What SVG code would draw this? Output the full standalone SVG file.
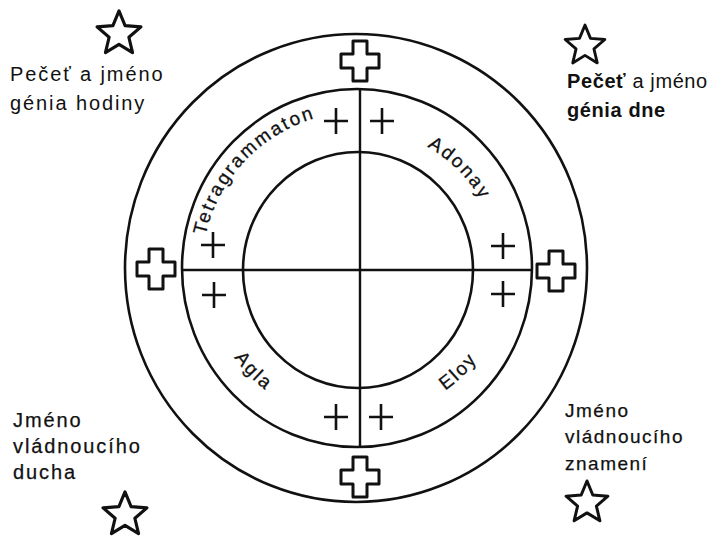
<svg xmlns="http://www.w3.org/2000/svg" xmlns:xlink="http://www.w3.org/1999/xlink" width="714" height="538" viewBox="0 0 714 538">
<style>
  .ring { fill: none; stroke: #111; stroke-width: 2.6; }
  .line { stroke: #111; stroke-width: 2.4; fill: none; }
  .cross { fill: #fff; stroke: #111; stroke-width: 3; stroke-linejoin: round; }
  .plus { stroke: #111; stroke-width: 2.6; fill: none; }
  .star { fill: #fff; stroke: #111; stroke-width: 3; stroke-linejoin: round; }
  .lbl { font-family: "Liberation Sans", Arial, sans-serif; font-size: 20px; fill: #111; letter-spacing: 1.9px; }
  .arc { font-family: "Liberation Sans", Arial, sans-serif; font-size: 19px; fill: #111; letter-spacing: 2.2px; stroke: #111; stroke-width: 0.3; }
  .b { font-weight: bold; }
  .semi { stroke: #111; stroke-width: 0.25; }
</style>
<defs>
  <path id="crossShape" d="M-7,-20 H7 V-7 H19 V7 H7 V20 H-7 V7 H-19 V-7 H-7 Z"/>
  <path id="plusShape" d="M-12,0 H12 M0,-13 V13"/>
  <path id="starShape" d="M0,-22 L5.8,-8 L20.9,-6.8 L9.4,3.1 L12.9,17.8 L0,9.9 L-12.9,17.8 L-9.4,3.1 L-20.9,-6.8 L-5.8,-8 Z"/>
  <path id="pTetra" d="M202,269 A157,157 0 0 1 359,112"/>
  <path id="pAdonay" d="M359,129 A140,140 0 0 1 499,269"/>
  <path id="pAgla" d="M206,269 A153,153 0 0 0 359,422"/>
  <path id="pEloy" d="M359,418 A149,149 0 0 0 508,269"/>
</defs>
<rect width="714" height="538" fill="#fff"/>

<g id="circles">
  <ellipse class="ring" cx="356" cy="268" rx="231" ry="234"/>
  <ellipse class="ring" cx="357" cy="268" rx="175" ry="179"/>
  <ellipse class="ring" cx="358" cy="270" rx="115" ry="118"/>
</g>

<g id="connectors">
  <line class="line" x1="360" y1="89" x2="360" y2="447"/>
  <line class="line" x1="182" y1="270" x2="532" y2="270"/>
</g>

<g id="crosses">
  <use href="#crossShape" class="cross" transform="translate(360,61)"/>
  <use href="#crossShape" class="cross" transform="translate(156,269)"/>
  <use href="#crossShape" class="cross" transform="translate(556,271)"/>
  <use href="#crossShape" class="cross" transform="translate(360,477)"/>
</g>

<g id="pluses">
  <use href="#plusShape" class="plus" transform="translate(336,121)"/>
  <use href="#plusShape" class="plus" transform="translate(382,121)"/>
  <use href="#plusShape" class="plus" transform="translate(213,245)"/>
  <use href="#plusShape" class="plus" transform="translate(214,295)"/>
  <use href="#plusShape" class="plus" transform="translate(503,246)"/>
  <use href="#plusShape" class="plus" transform="translate(503,294)"/>
  <use href="#plusShape" class="plus" transform="translate(336,417)"/>
  <use href="#plusShape" class="plus" transform="translate(381,417)"/>
</g>

<g id="ring-names">
  <text class="arc"><textPath href="#pTetra" startOffset="48%" text-anchor="middle">Tetragrammaton</textPath></text>
  <text class="arc"><textPath href="#pAdonay" startOffset="50%" text-anchor="middle">Adonay</textPath></text>
  <text class="arc"><textPath href="#pAgla" startOffset="49%" text-anchor="middle">Agla</textPath></text>
  <text class="arc"><textPath href="#pEloy" startOffset="49%" text-anchor="middle">Eloy</textPath></text>
</g>

<g id="node-top-left">
  <use href="#starShape" class="star" transform="translate(119,34) scale(1.05)"/>
  <text class="lbl" x="10" y="81">Pečeť a jméno</text>
  <text class="lbl" x="10" y="110">génia hodiny</text>
</g>

<g id="node-top-right">
  <use href="#starShape" class="star" transform="translate(585,46) scale(0.95)"/>
  <text class="lbl" x="567" y="88" style="letter-spacing:0.6px"><tspan class="b">Pečeť</tspan> a jméno</text>
  <text class="lbl b" x="567" y="117" style="letter-spacing:0.6px">génia dne</text>
</g>

<g id="node-bottom-left">
  <text class="lbl semi" x="13" y="427">Jméno</text>
  <text class="lbl semi" x="13" y="453">vládnoucího</text>
  <text class="lbl semi" x="13" y="479">ducha</text>
  <use href="#starShape" class="star" transform="translate(125,515) scale(1.05)"/>
</g>

<g id="node-bottom-right">
  <text class="lbl semi" x="565" y="417" style="font-size:19px;letter-spacing:1.5px">Jméno</text>
  <text class="lbl semi" x="565" y="443" style="font-size:19px;letter-spacing:1.5px">vládnoucího</text>
  <text class="lbl semi" x="565" y="470" style="font-size:19px;letter-spacing:1.5px">znamení</text>
  <use href="#starShape" class="star" transform="translate(587,503)"/>
</g>
</svg>
